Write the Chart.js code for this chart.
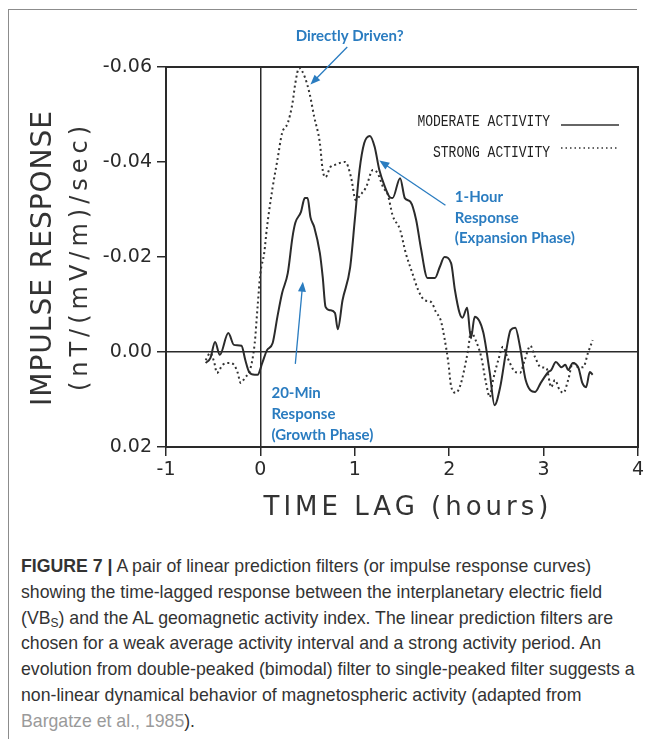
<!DOCTYPE html>
<html>
<head>
<meta charset="utf-8">
<script src="https://cdn.jsdelivr.net/npm/chart.js@4.4.1/dist/chart.umd.min.js"></script>
<style>
  html, body { margin: 0; padding: 0; background: #fff; }
  body { width: 654px; height: 739px; position: relative; overflow: hidden; }
  #frame { position: absolute; left: 8px; top: 9px; width: 628px; height: 740px;
           border-left: 1px solid #8c8c8c; border-top: 1px solid #8c8c8c; }
  #wrap { position: absolute; left: 0; top: 0; width: 654px; height: 540px; }
  #caption { position: absolute; left: 21px; top: 554px; font-family: "Liberation Sans", Arial, sans-serif;
             font-size: 17.7px; line-height: 25.8px; color: #333; white-space: nowrap; }
  #caption sub { font-size: 12px; line-height: 0; vertical-align: -3px; }
  #caption .ref { color: #9a9a9a; }
</style>
</head>
<body>
<div id="frame"></div>
<div id="wrap"><canvas id="myChart" width="654" height="540"></canvas></div>
<div id="caption"><b>FIGURE 7 |</b> A pair of linear prediction filters (or impulse response curves)<br>showing the time-lagged response between the interplanetary electric field<br>(VB<sub>S</sub>) and the AL geomagnetic activity index. The linear prediction filters are<br>chosen for a weak average activity interval and a strong activity period. An<br>evolution from double-peaked (bimodal) filter to single-peaked filter suggests a<br>non-linear dynamical behavior of magnetospheric activity (adapted from<br><span class="ref">Bargatze et al., 1985</span>).</div>
<script>
// moderate activity (solid)
const modHours = [-0.58,-0.53,-0.48,-0.43,-0.34,-0.28,-0.20,-0.16,-0.12,-0.06,-0.03,0.02,0.07,0.13,0.18,0.23,0.29,0.34,0.37,0.43,
  0.47,0.50,0.53,0.57,0.63,0.66,0.69,0.74,0.79,0.82,0.87,0.95,1.00,1.05,1.10,1.16,1.21,1.26,1.32,1.37,
  1.40,1.48,1.53,1.59,1.65,1.70,1.77,1.85,1.90,1.95,2.02,2.06,2.11,2.14,2.19,2.23,2.27,2.36,2.43,2.48,
  2.54,2.60,2.65,2.70,2.75,2.81,2.91,2.97,3.05,3.08,3.13,3.19,3.23,3.26,3.31,3.37,3.41,3.45,3.49,3.52];
const modValues = [0.0023,0.0013,-0.0021,0.0006,-0.0040,-0.0015,-0.0013,0.0017,0.0042,0.0048,0.0048,0.0023,-0.0004,-0.0019,-0.0074,-0.0124,-0.0166,-0.0242,-0.0272,-0.0295,
  -0.0324,-0.0324,-0.0284,-0.0263,-0.0208,-0.0158,-0.0095,-0.0088,-0.0082,-0.0048,-0.0109,-0.0177,-0.0278,-0.0383,-0.0440,-0.0455,-0.0432,-0.0383,-0.0347,-0.0326,
  -0.0324,-0.0366,-0.0324,-0.0316,-0.0278,-0.0219,-0.0156,-0.0156,-0.0179,-0.0200,-0.0187,-0.0131,-0.0082,-0.0072,-0.0093,-0.0029,-0.0074,-0.0042,0.0044,0.0112,
  0.0074,0.0002,-0.0046,-0.0051,-0.0011,0.0059,0.0084,0.0065,0.0042,0.0038,0.0021,0.0032,0.0027,0.0038,0.0023,0.0034,0.0065,0.0074,0.0042,0.0048];

// strong activity (dotted)
const strongHours = [-0.58,-0.53,-0.49,-0.46,-0.40,-0.33,-0.28,-0.24,-0.21,-0.16,-0.11,-0.06,-0.03,0.00,0.04,0.07,0.13,0.18,0.23,0.29,
  0.34,0.37,0.41,0.47,0.52,0.57,0.63,0.66,0.69,0.74,0.79,0.84,0.90,0.96,1.01,1.06,1.12,1.19,1.24,1.30,
  1.35,1.40,1.48,1.54,1.61,1.67,1.74,1.81,1.86,1.91,1.95,1.99,2.02,2.07,2.12,2.18,2.20,2.23,2.28,2.34,
  2.39,2.43,2.46,2.52,2.57,2.62,2.70,2.75,2.80,2.86,2.91,2.97,3.03,3.08,3.12,3.17,3.21,3.26,3.31,3.37,
  3.42,3.47,3.52];
const strongValues = [0.0017,0.0002,0.0021,0.0044,0.0027,0.0023,0.0027,0.0044,0.0065,0.0053,0.0038,-0.0019,-0.0095,-0.0166,-0.0208,-0.0263,-0.0347,-0.0404,-0.0461,-0.0482,
  -0.0524,-0.0566,-0.0598,-0.0579,-0.0545,-0.0495,-0.0440,-0.0383,-0.0368,-0.0389,-0.0394,-0.0398,-0.0400,-0.0368,-0.0320,-0.0331,-0.0347,-0.0383,-0.0377,-0.0347,
  -0.0331,-0.0288,-0.0257,-0.0208,-0.0166,-0.0131,-0.0109,-0.0105,-0.0084,-0.0067,-0.0029,0.0021,0.0072,0.0086,0.0069,0.0017,-0.0004,-0.0042,-0.0025,0.0011,
  0.0065,0.0095,0.0063,0.0017,-0.0011,0.0013,0.0042,0.0044,0.0017,-0.0013,0.0011,0.0032,0.0034,0.0074,0.0059,0.0080,0.0086,0.0059,0.0023,0.0032,
  0.0032,0.0002,-0.0025];

const xTicks = [-1, 0, 1, 2, 3, 4];
const yTicks = [-0.06, -0.04, -0.02, 0.00, 0.02];
const legendLabels = ["MODERATE ACTIVITY", "STRONG ACTIVITY"];
const xTitle = "TIME LAG (hours)";
const yTitle = ["IMPULSE RESPONSE", "(nT/(mV/m)/sec)"];

// blue notes, placed in data units
const blue = "#2a7cc0";
const notes = [
  { lines: ["Directly Driven?"], x: 0.945, y: -0.0665, align: "center", arrow: [0.92, -0.0642, 0.53, -0.0563] },
  { lines: ["1-Hour", "Response", "(Expansion Phase)"], x: 2.06, y: -0.0326, align: "left", arrow: [1.96, -0.0309, 1.26, -0.0403] },
  { lines: ["20-Min", "Response", "(Growth Phase)"], x: 0.117, y: 0.0087, align: "left", arrow: [0.37, 0.0025, 0.45, -0.0148] }
];

const ink = "#2a2a2a";

function arrow(ctx, x1, y1, x2, y2) {
  const a = Math.atan2(y2 - y1, x2 - x1);
  ctx.beginPath();
  ctx.moveTo(x1, y1);
  ctx.lineTo(x2 - 6 * Math.cos(a), y2 - 6 * Math.sin(a));
  ctx.stroke();
  ctx.beginPath();
  ctx.moveTo(x2, y2);
  ctx.lineTo(x2 - 10 * Math.cos(a) + 4 * Math.sin(a), y2 - 10 * Math.sin(a) - 4 * Math.cos(a));
  ctx.lineTo(x2 - 10 * Math.cos(a) - 4 * Math.sin(a), y2 - 10 * Math.sin(a) + 4 * Math.cos(a));
  ctx.closePath();
  ctx.fill();
}

const overlay = {
  id: "overlay",
  afterDraw(chart) {
    const { ctx, chartArea: a, scales: { x, y } } = chart;
    ctx.save();
    ctx.strokeStyle = ink;
    ctx.lineWidth = 2;
    ctx.strokeRect(a.left, a.top, a.right - a.left, a.bottom - a.top);

    // axis titles
    ctx.fillStyle = "#333";
    ctx.textAlign = "center";
    ctx.textBaseline = "middle";
    ctx.letterSpacing = "4px";
    ctx.font = '26px "DejaVu Sans"';
    ctx.fillText(xTitle, (a.left + a.right) / 2 + 6, 508);

    ctx.save();
    ctx.translate(44, 258);
    ctx.rotate(-Math.PI / 2);
    ctx.letterSpacing = "1px";
    ctx.font = '28px "DejaVu Sans"';
    ctx.fillText(yTitle[0], 0, 0);
    ctx.restore();

    ctx.save();
    ctx.translate(81, 256);
    ctx.rotate(-Math.PI / 2);
    ctx.letterSpacing = "5px";
    ctx.font = '24px "DejaVu Sans"';
    ctx.fillText(yTitle[1], 0, 0);
    ctx.restore();
    ctx.letterSpacing = "0px";

    // legend
    ctx.font = '13px "Liberation Mono"';
    ctx.textAlign = "right";
    ctx.textBaseline = "alphabetic";
    ctx.fillStyle = "#222";
    [[legendLabels[0], 126], [legendLabels[1], 157]].forEach(([t, by]) => {
      ctx.save();
      ctx.translate(550, by);
      ctx.scale(1, 1.25);
      ctx.fillText(t, 0, 0);
      ctx.restore();
    });
    ctx.lineWidth = 1.5;
    ctx.strokeStyle = "#333";
    ctx.beginPath(); ctx.moveTo(561, 125); ctx.lineTo(619, 125); ctx.stroke();
    ctx.setLineDash([1.5, 3]);
    ctx.beginPath(); ctx.moveTo(561, 148); ctx.lineTo(617, 148); ctx.stroke();
    ctx.setLineDash([]);

    // blue notes
    ctx.fillStyle = blue;
    ctx.strokeStyle = blue;
    ctx.lineWidth = 1.3;
    ctx.font = 'bold 15px Lato';
    ctx.textBaseline = "middle";
    notes.forEach((n) => {
      ctx.textAlign = n.align;
      const px = x.getPixelForValue(n.x), py = y.getPixelForValue(n.y);
      n.lines.forEach((t, i) => ctx.fillText(t, px, py + i * 20.7));
      const [x1, y1, x2, y2] = n.arrow;
      arrow(ctx, x.getPixelForValue(x1), y.getPixelForValue(y1), x.getPixelForValue(x2), y.getPixelForValue(y2));
    });
    ctx.restore();
  }
};

const tickFont = { family: "DejaVu Sans", size: 19 };

new Chart(document.getElementById("myChart"), {
  type: "line",
  data: {
    datasets: [
      {
        label: legendLabels[0],
        data: modHours.map((h, i) => ({ x: h, y: modValues[i] })),
        borderColor: "#2b2b2b",
        borderWidth: 2,
        pointRadius: 0,
        cubicInterpolationMode: "monotone",
      },
      {
        label: legendLabels[1],
        data: strongHours.map((h, i) => ({ x: h, y: strongValues[i] })),
        borderColor: "#333",
        borderWidth: 2,
        borderDash: [2, 3],
        pointRadius: 0,
        cubicInterpolationMode: "monotone",
      },
    ],
  },
  options: {
    responsive: false,
    animation: false,
    layout: { padding: { left: 0, top: 67, right: 16, bottom: 0 } },
    plugins: { legend: { display: false }, tooltip: { enabled: false } },
    scales: {
      x: {
        type: "linear",
        min: -1,
        max: 4,
        afterBuildTicks: (s) => { s.ticks = xTicks.map((v) => ({ value: v })); },
        afterFit: (s) => { s.height = 93; },
        ticks: { font: tickFont, color: ink, padding: 3, callback: (v) => String(v) },
        grid: {
          color: (c) => (c.tick && c.tick.value === 0 ? ink : "rgba(0,0,0,0)"),
          lineWidth: 1.5,
          tickColor: ink,
          tickLength: 9,
          tickWidth: 1.5,
        },
        border: { display: true, color: ink, width: 2 },
      },
      y: {
        type: "linear",
        reverse: true,
        min: -0.06,
        max: 0.02,
        afterBuildTicks: (s) => { s.ticks = yTicks.map((v) => ({ value: v })); },
        afterFit: (s) => { s.width = 166; },
        ticks: { font: tickFont, color: ink, padding: 5, callback: (v) => (Math.abs(v) < 1e-9 ? "0.00" : v.toFixed(2)) },
        grid: {
          color: (c) => (c.tick && Math.abs(c.tick.value) < 1e-9 ? ink : "rgba(0,0,0,0)"),
          lineWidth: 1.5,
          tickColor: ink,
          tickLength: 9,
          tickWidth: 1.5,
        },
        border: { display: true, color: ink, width: 2 },
      },
    },
  },
  plugins: [overlay],
});
</script>
</body>
</html>
